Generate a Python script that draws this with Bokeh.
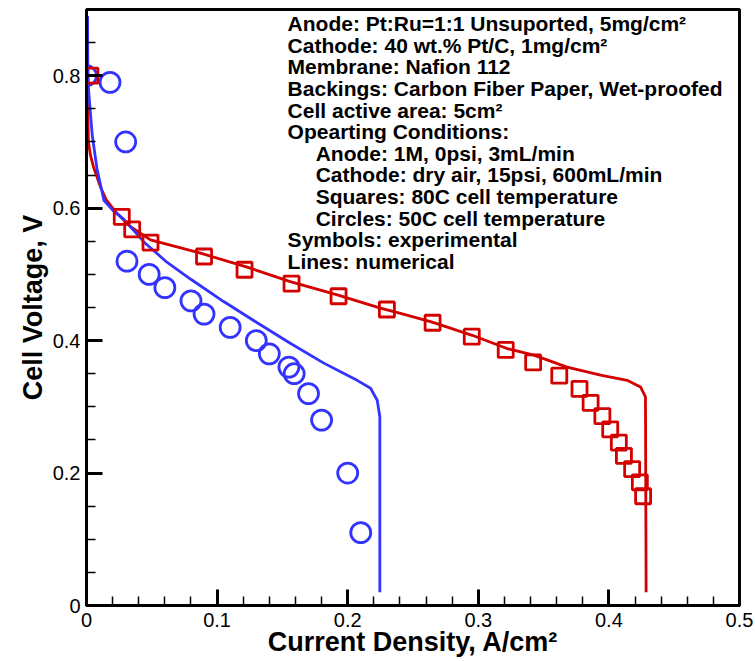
from bokeh.plotting import figure
from bokeh.models import FixedTicker, CustomJSTickFormatter, ColumnDataSource, Range1d
from bokeh.core.properties import value
from bokeh.embed import file_html
from bokeh.resources import INLINE

# ---------------- data ----------------
# 50C experimental (circles)
circ_x = [0.000, 0.018, 0.030, 0.031, 0.048, 0.060, 0.080, 0.090, 0.110, 0.130,
          0.140, 0.155, 0.159, 0.170, 0.180, 0.200, 0.210]
circ_y = [0.800, 0.790, 0.700, 0.520, 0.500, 0.480, 0.460, 0.440, 0.420, 0.400,
          0.380, 0.360, 0.350, 0.320, 0.280, 0.200, 0.110]

# 80C experimental (squares)
sq_x = [0.003, 0.027, 0.035, 0.049, 0.090, 0.121, 0.157, 0.193, 0.230, 0.265,
        0.295, 0.321, 0.342, 0.362, 0.3775, 0.386, 0.395, 0.401, 0.4076, 0.4115,
        0.4178, 0.4237, 0.4262]
sq_y = [0.800, 0.587, 0.568, 0.548, 0.527, 0.507, 0.486, 0.467, 0.447, 0.427,
        0.406, 0.386, 0.367, 0.347, 0.327, 0.306, 0.286, 0.266, 0.246, 0.226,
        0.206, 0.186, 0.165]

# 50C numerical (blue line)
blue_x = [0.0008, 0.0010, 0.0015, 0.0044, 0.0080, 0.0133, 0.0200, 0.0286, 0.0439,
          0.0618, 0.0796, 0.1050, 0.1307, 0.1560, 0.1817, 0.2072, 0.2175, 0.2226,
          0.2246, 0.2246]
blue_y = [0.890, 0.820, 0.780, 0.710, 0.660, 0.612, 0.597, 0.583, 0.549,
          0.518, 0.493, 0.459, 0.427, 0.396, 0.366, 0.340, 0.328, 0.310,
          0.285, 0.020]

# 80C numerical (red line)
red_x = [0.0008, 0.0010, 0.0015, 0.0030, 0.0054, 0.0107, 0.0153, 0.0220, 0.0337,
         0.0490, 0.0873, 0.1230, 0.1560, 0.1920, 0.2250, 0.2404, 0.2647, 0.2953,
         0.3220, 0.3425, 0.3680, 0.3936, 0.4140, 0.4242, 0.4280, 0.4285]
red_y = [0.850, 0.750, 0.700, 0.680, 0.662, 0.632, 0.612, 0.595, 0.572,
         0.552, 0.532, 0.511, 0.489, 0.469, 0.449, 0.441, 0.428, 0.408,
         0.388, 0.378, 0.360, 0.348, 0.340, 0.330, 0.315, 0.020]

x_ticks = [0.0, 0.1, 0.2, 0.3, 0.4, 0.5]
y_ticks = [0.0, 0.2, 0.4, 0.6, 0.8]

notes = [
    "Anode: Pt:Ru=1:1 Unsuported, 5mg/cm²",
    "Cathode: 40 wt.% Pt/C, 1mg/cm²",
    "Membrane: Nafion 112",
    "Backings: Carbon Fiber Paper, Wet-proofed",
    "Cell active area: 5cm²",
    "Opearting Conditions:",
    "Anode: 1M, 0psi, 3mL/min",
    "Cathode: dry air, 15psi, 600mL/min",
    "Squares: 80C cell temperature",
    "Circles: 50C cell temperature",
    "Symbols: experimental",
    "Lines: numerical",
]
indented = [False] * 6 + [True] * 4 + [False] * 2

BLUE = "#3333ff"
RED = "#d40000"
FONT = "Liberation Sans"

# ---------------- figure ----------------
p = figure(width=755, height=661, x_range=Range1d(0, 0.5), y_range=Range1d(0, 0.9),
           output_backend="svg", toolbar_location=None,
           min_border_left=86, min_border_right=16, min_border_top=9, min_border_bottom=56)
p.grid.visible = False
p.outline_line_color = "black"
p.outline_line_width = 3
p.background_fill_color = "white"
p.border_fill_color = "white"

p.xaxis.ticker = FixedTicker(ticks=x_ticks, minor_ticks=[i * 0.02 for i in range(26)])
p.yaxis.ticker = FixedTicker(ticks=y_ticks, minor_ticks=[i * 0.05 for i in range(18)])
fmt = CustomJSTickFormatter(code="return Math.abs(tick) < 1e-9 ? '0' : tick.toFixed(1);")
for ax in (p.xaxis[0], p.yaxis[0]):
    ax.formatter = fmt
    ax.axis_line_width = 3
    ax.axis_line_color = "black"
    ax.major_tick_in = 16
    ax.major_tick_out = 0
    ax.minor_tick_in = 9
    ax.minor_tick_out = 0
    ax.major_tick_line_width = 3
    ax.minor_tick_line_width = 1.5
    ax.major_label_text_font = FONT
    ax.major_label_text_font_size = "20px"
    ax.major_label_text_color = "black"
    ax.axis_label_text_font = FONT
    ax.axis_label_text_font_size = "27px"
    ax.axis_label_text_font_style = "bold"
    ax.axis_label_text_color = "black"

p.xaxis.axis_label = "Current Density, A/cm²"
p.yaxis.axis_label = "Cell Voltage, V"
p.xaxis.major_label_standoff = 7
p.xaxis.axis_label_standoff = -3
p.yaxis.major_label_standoff = 6
p.yaxis.axis_label_standoff = 2

# ---------------- glyphs ----------------
p.line(red_x, red_y, line_color=RED, line_width=2.8)
p.line(blue_x, blue_y, line_color=BLUE, line_width=2.8)
p.scatter(circ_x, circ_y, marker="circle", size=20, fill_color=None,
          line_color=BLUE, line_width=2.8)
p.scatter(sq_x, sq_y, marker="square", size=15, fill_color=None,
          line_color=RED, line_width=2.8)

# ---------------- annotation text ----------------
TEXT_X = 0.154
INDENT = 0.0215
TOP_Y = 0.879
STEP = 0.0327
src = ColumnDataSource(dict(
    x=[TEXT_X + (INDENT if ind else 0) for ind in indented],
    y=[TOP_Y - i * STEP for i in range(len(notes))],
    text=notes,
))
p.text(x="x", y="y", text="text", source=src, text_font=value(FONT),
       text_font_style="bold", text_font_size="21px", text_color="black",
       text_align="left", text_baseline="alphabetic")

open("out.html", "w").write(file_html(p, INLINE))
